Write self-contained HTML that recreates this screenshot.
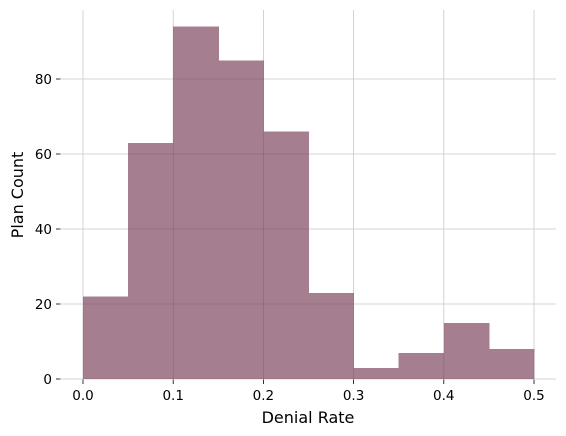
<!DOCTYPE html>
<html><head><meta charset="utf-8"><style>
body{margin:0;background:#fff}
svg{display:block;font-family:"DejaVu Sans","Liberation Sans",sans-serif}
</style></head><body>
<svg width="566" height="436" id="chart">
<defs><clipPath id="barclip"></clipPath></defs>
<g id="grid"></g>
<g id="bars" shape-rendering="crispEdges"></g>
<g id="gridfront" clip-path="url(#barclip)"></g>
<g id="xaxis"></g>
<g id="yaxis"></g>
<text x="308" y="423" font-size="16" text-anchor="middle" fill="#000">Denial Rate</text>
<text x="23" y="195" font-size="16" text-anchor="middle" fill="#000" transform="rotate(-90 23 195)">Plan Count</text>
</svg>
<script>
const binEdges=[0,0.05,0.1,0.15,0.2,0.25,0.3,0.35,0.4,0.45,0.5];
const counts=[22,63,94,85,66,23,3,7,15,8];
const xTicks=[0,0.1,0.2,0.3,0.4,0.5];
const xTickLabels=["0.0","0.1","0.2","0.3","0.4","0.5"];
const yTicks=[0,20,40,60,80];
const yTickLabels=["0","20","40","60","80"];
const L=61,R=556,T=10,B=379;
const xs=v=>83+v*902;
const ys=v=>379-v*3.75;
const NS="http://www.w3.org/2000/svg";
function mk(tag,parent,attrs){const e=document.createElementNS(NS,tag);for(const k in attrs)e.setAttribute(k,attrs[k]);document.getElementById(parent).appendChild(e);return e;}
xTicks.forEach((t,i)=>{
 const g=mk('line','grid',{x1:xs(t),x2:xs(t),y1:T,y2:B,stroke:'#c8c8c8','stroke-width':0.8});
 
 
 const tk=mk('line','xaxis',{x1:xs(t),x2:xs(t),y1:B+0.5,y2:B+5,stroke:'#000','stroke-width':0.8});
 
 
 const lb=mk('text','xaxis',{x:xs(t),y:B+21,'font-size':13.5,'text-anchor':'middle',fill:'#000'});
 lb.textContent=xTickLabels[i];
 
 
});
yTicks.forEach((t,i)=>{
 const g=mk('line','grid',{x1:L,x2:R,y1:ys(t),y2:ys(t),stroke:'#c8c8c8','stroke-width':0.8});
 
 
 const tk=mk('line','yaxis',{x1:L-5,x2:L-0.5,y1:ys(t),y2:ys(t),stroke:'#000','stroke-width':0.8});
 
 
 const lb=mk('text','yaxis',{x:L-9,y:ys(t)+5,'font-size':13.5,'text-anchor':'end',fill:'#000'});
 lb.textContent=yTickLabels[i];
 
 
});
const clip=document.getElementById('barclip');
counts.forEach((c,i)=>{
 const x0=xs(binEdges[i]),x1=xs(binEdges[i+1]);
 const r=mk('rect','bars',{x:x0,y:ys(c),width:x1-x0+0.6,height:ys(0)-ys(c),fill:'#a57f8f'});
 
 
 const cr=document.createElementNS(NS,'rect');
 cr.setAttribute('x',x0);cr.setAttribute('y',ys(c));cr.setAttribute('width',x1-x0);cr.setAttribute('height',ys(0)-ys(c));
 clip.appendChild(cr);
});
xTicks.forEach(t=>{
 const g=mk('line','gridfront',{x1:xs(t),x2:xs(t),y1:T,y2:B,stroke:'#6a4a58','stroke-width':0.8,opacity:0.35});
 
 
});
yTicks.forEach(t=>{
 const g=mk('line','gridfront',{x1:L,x2:R,y1:ys(t),y2:ys(t),stroke:'#6a4a58','stroke-width':0.8,opacity:0.35});
 
 
});
</script>
</body></html>
